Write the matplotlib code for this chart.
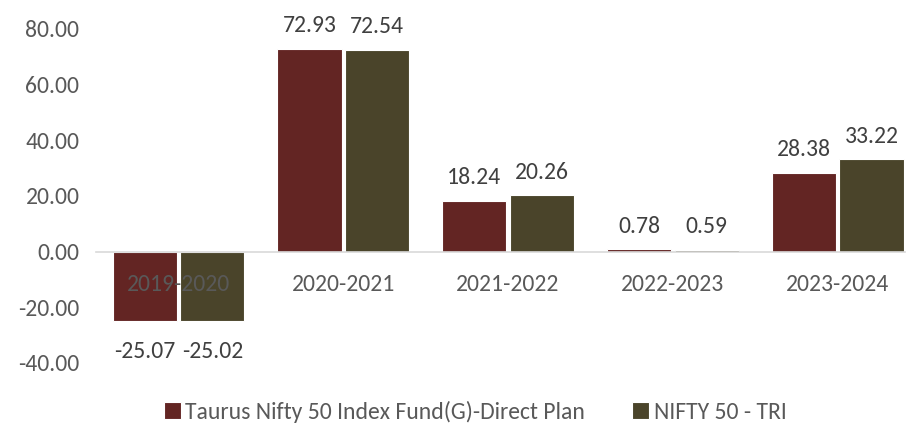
import numpy as np
import matplotlib.pyplot as plt

years = ['2019-2020', '2020-2021', '2021-2022', '2022-2023', '2023-2024']
fund = [-25.07, 72.93, 18.24, 0.78, 28.38]
nifty = [-25.02, 72.54, 20.26, 0.59, 33.22]
series_names = ['Taurus Nifty 50 Index Fund(G)-Direct Plan', 'NIFTY 50 - TRI']
yticks = [-40, -20, 0, 20, 40, 60, 80]

plt.rcParams['font.family'] = ['Carlito', 'Lato', 'DejaVu Sans']
fs = 17

fig = plt.figure(figsize=(9.07, 4.25), dpi=100)
ax = fig.add_axes([0.106, 0.146, 0.892, 0.786])

x = np.arange(len(years))
w = 0.39
b1 = ax.bar(x - w/2 - 0.01, fund, w, color='#632523', edgecolor='white', linewidth=0.8, label=series_names[0])
b2 = ax.bar(x + w/2 + 0.01, nifty, w, color='#4A442A', edgecolor='white', linewidth=0.8, label=series_names[1])

for bars, vals in [(b1, fund), (b2, nifty)]:
    for r, v in zip(bars, vals):
        off = 9 if v >= 0 else -14
        ax.annotate(f'{v:.2f}', (r.get_x() + r.get_width()/2, v), xytext=(0, off),
                    textcoords='offset points', ha='center',
                    va='bottom' if v >= 0 else 'top', fontsize=fs, color='#404040')

ax.set_ylim(-40, 80)
ax.set_xlim(-0.5, 4.41)
ax.set_yticks(yticks)
ax.set_yticklabels([f'{t:.2f}' for t in yticks])
ax.set_xticks(x)
ax.set_xticklabels(years)
ax.spines['bottom'].set_position(('data', 0))
ax.spines['bottom'].set_color('#D9D9D9')
ax.spines['bottom'].set_linewidth(1.2)
for s in ['top', 'right', 'left']:
    ax.spines[s].set_visible(False)
ax.tick_params(axis='both', length=0, labelsize=fs, labelcolor='#595959')
ax.tick_params(axis='x', pad=16)
ax.tick_params(axis='y', pad=12)

fig.legend(handles=[b1, b2], loc='lower center', bbox_to_anchor=(0.524, -0.045), ncol=2,
           frameon=False, labelcolor='#595959', fontsize=fs, handlelength=0.7,
           handleheight=0.7, handletextpad=0.2, columnspacing=2.0)

plt.savefig('out.png', dpi=100)
